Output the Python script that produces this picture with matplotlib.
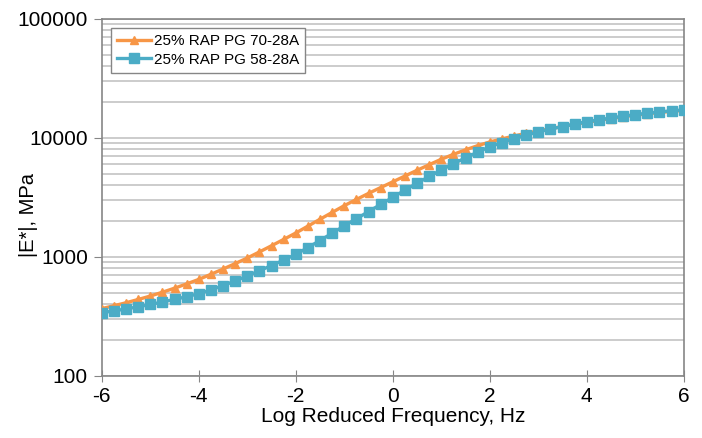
import numpy as np
import matplotlib
matplotlib.use("Agg")
import matplotlib.pyplot as plt
from matplotlib.ticker import LogLocator, FixedLocator, NullFormatter

plt.rcParams["font.family"] = ["Liberation Sans", "DejaVu Sans"]
plt.rcParams["axes.unicode_minus"] = False

# log reduced frequency (Hz), one marker every 0.25
freq = np.arange(-6.0, 6.01, 0.25)

# |E*| in MPa
e_70_28 = [367, 388, 411, 438, 468, 504, 545, 592, 646, 713, 789, 877, 977,
           1099, 1239, 1400, 1585, 1811, 2070, 2360, 2692, 3034, 3412, 3819,
           4266, 4775, 5333, 5943, 6607, 7261, 7925, 8590, 9226, 9795, 10351,
           10914, 11429, 11940, 12445, 12972, 13490, 13996, 14521, 15031,
           15488, 15922, 16331, 16673, 16982]
e_58_28 = [339, 351, 365, 380, 398, 417, 439, 462, 490, 528, 573, 627, 692,
           764, 845, 940, 1047, 1197, 1371, 1578, 1820, 2089, 2399, 2754,
           3162, 3631, 4150, 4732, 5370, 6053, 6792, 7586, 8414, 9120, 9840,
           10544, 11220, 11830, 12445, 13062, 13646, 14158, 14689, 15205,
           15668, 16106, 16520, 16866, 17179]

labels = ["25% RAP PG 70-28A", "25% RAP PG 58-28A"]
colors = ["#F79646", "#4BACC6"]

fig = plt.figure(figsize=(7.02, 4.38), dpi=100)
ax = fig.add_axes([0.145, 0.142, 0.829, 0.815])

ax.plot(freq, e_70_28, color=colors[0], lw=2.4, marker="^", ms=6,
        label=labels[0], zorder=3)
ax.plot(freq, e_58_28, color=colors[1], lw=2.4, marker="s", ms=6.5,
        label=labels[1], zorder=4)

ax.set_yscale("log")
ax.set_ylim(100, 100000)
ax.set_xlim(-6, 6)
ax.set_xticks(np.arange(-6, 7, 2))
ax.yaxis.set_major_locator(FixedLocator([100, 1000, 10000, 100000]))
ax.set_yticklabels(["100", "1000", "10000", "100000"])
ax.yaxis.set_minor_locator(LogLocator(base=10, subs=np.arange(2, 10)))
ax.yaxis.set_minor_formatter(NullFormatter())

ax.grid(True, which="both", axis="y", color="#C4C4C4", lw=1.2, zorder=0)
ax.set_axisbelow(True)

for s in ax.spines.values():
    s.set_color("#868686")
    s.set_linewidth(1.2)
ax.tick_params(axis="y", which="major", direction="out", length=6,
               color="#868686", labelsize=15, pad=4)
ax.tick_params(axis="y", which="minor", length=0)
ax.tick_params(axis="x", which="major", direction="inout", length=8,
               color="#868686", labelsize=15, pad=4)

ax.set_xlabel("Log Reduced Frequency, Hz", fontsize=15, labelpad=1)
ax.set_ylabel("|E*|, MPa", fontsize=14.5)
ax.yaxis.set_label_coords(-0.11, 0.45)

leg = ax.legend(loc="upper left", fontsize=11, frameon=True, fancybox=False,
                borderpad=0.4, handlelength=2.2, handletextpad=0.2,
                labelspacing=0.3, borderaxespad=0.6)
leg.get_frame().set_edgecolor("#868686")
leg.get_frame().set_linewidth(1.0)
leg.get_frame().set_alpha(1)

fig.savefig("out.png", dpi=100)
